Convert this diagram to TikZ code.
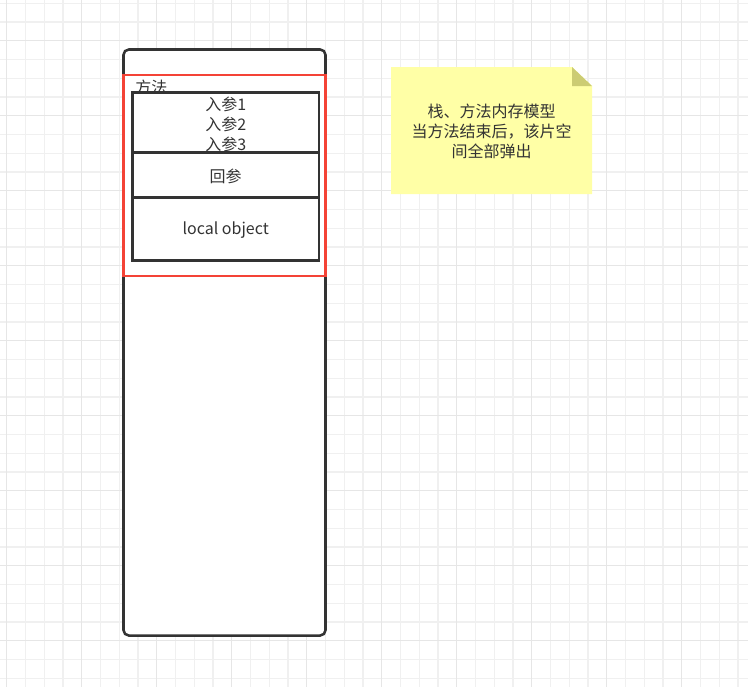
\documentclass[tikz,border=0pt]{standalone}
\usepackage{fontspec}
\setmainfont{Noto Sans CJK SC}
\definecolor{gridminor}{HTML}{F0F0F0}
\definecolor{gridmajor}{HTML}{E6E6E6}
\definecolor{ink}{HTML}{333333}
\definecolor{redline}{HTML}{F44336}
\definecolor{notefill}{HTML}{FFFFA6}
\definecolor{notefold}{HTML}{CCCC73}
\tikzset{
  boxline/.style={draw=ink, line width=1.9pt},
  redbox/.style={draw=redline, line width=1.9pt},
  label/.style={text=ink, font=\fontsize{12pt}{15pt}\selectfont, inner sep=0pt, align=center},
}
\begin{document}
\begin{tikzpicture}[x=0.75pt,y=-0.75pt]
\useasboundingbox (0,0) rectangle (748,687);
\fill[white] (0,0) rectangle (748,687);
% grid
\foreach \i in {0,...,40} {
  \pgfmathsetmacro{\gx}{6.7+18.75*\i}
  \draw[gridminor, line width=1pt] (\gx,0) -- (\gx,687);
}
\foreach \i in {0,...,37} {
  \pgfmathsetmacro{\gy}{3.2+18.75*\i}
  \draw[gridminor, line width=1pt] (0,\gy) -- (748,\gy);
}
\foreach \i in {0,...,9} {
  \pgfmathsetmacro{\gx}{6.7+75*\i}
  \draw[gridmajor, line width=1pt] (\gx,0) -- (\gx,687);
}
\foreach \i in {0,...,9} {
  \pgfmathsetmacro{\gy}{-34.3+75*\i}
  \draw[gridmajor, line width=1pt] (0,\gy) -- (748,\gy);
}
% outer stack
\draw[boxline, fill=white, rounded corners=4pt] (123.5,49.5) rectangle (325.5,635.5);
\coordinate (stack) at (224.5,342);
% method label
\node[label, anchor=west] (fangfa) at (135,87) {方法};
% inner boxes
\draw[boxline, fill=white] (132.5,92.5) rectangle (319,152.7);
\node[label] (in1) at (225.7,104) {入参1};
\node[label] (in2) at (225.7,124.5) {入参2};
\node[label] (in3) at (225.7,144.5) {入参3};
\fill[white] (131,153.5) rectangle (320.5,197);
\draw[boxline] (132.5,152.7) rectangle (319,197.3);
\node[label] (ret) at (225.7,176) {回参};
\draw[boxline] (132.5,197.3) rectangle (319,260.7);
\node[label] (obj) at (225.7,230) {local object};
% red frame
\draw[redbox] (123.5,75) rectangle (325.5,276);
% note
\fill[notefill] (391,67) -- (572,67) -- (592,86) -- (592,194) -- (391,194) -- cycle;
\fill[notefold] (572,67) -- (592,86) -- (572,86) -- cycle;
\node[label] (note) at (491.5,131.5) {栈、方法内存模型\\当方法结束后，该片空\\间全部弹出};
\end{tikzpicture}
\end{document}
